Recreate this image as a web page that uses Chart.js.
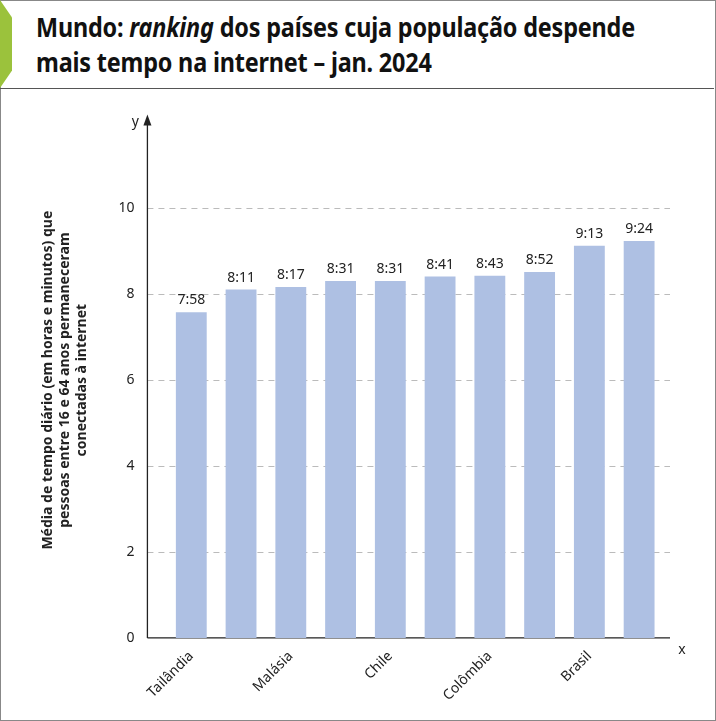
<!DOCTYPE html><html><head><meta charset="utf-8">
<script src="https://cdn.jsdelivr.net/npm/chart.js"></script>
<style>
body{margin:0;width:716px;height:721px;overflow:hidden;background:#fff;font-family:"Noto Sans",sans-serif}
#frame{position:absolute;left:0;top:0;width:714px;height:719px;border:1px solid #888}
#title{position:absolute;left:0;top:0;width:714px;height:88px;border-bottom:1px solid #555;}
#tab{position:absolute;left:0;top:0;width:12px;height:88px;background:#9bc23c;clip-path:polygon(0 0,100% 20%,100% 80%,0 100%)}
#title h1{margin:0;position:absolute;left:36px;top:10px;font-size:26px;line-height:35px;font-weight:bold;color:#111;white-space:nowrap;transform:scaleX(0.9);transform-origin:left top;letter-spacing:-0.2px}
#wrap{position:absolute;left:0;top:90px;width:716px;height:631px}
</style></head><body>
<div id="frame"></div>
<div id="title"><div id="tab"></div><h1>Mundo: <i>ranking</i> dos países cuja população despende<br>mais tempo na internet – jan. 2024</h1></div>
<div id="wrap"><canvas id="c"></canvas></div>
<script>
const categories=["Tailândia",["Emirados","Árabes Unidos"],"Malásia","Rússia","Chile","Argentina","Colômbia","Filipinas","Brasil","África do Sul"];
const values=[7.58,8.11,8.17,8.31,8.31,8.41,8.43,8.52,9.13,9.24];
const labels=["7:58","8:11","8:17","8:31","8:31","8:41","8:43","8:52","9:13","9:24"];
const yTicks=[0,2,4,6,8,10];
const axisPlugin={id:'ax',beforeDatasetsDraw(ch){const c=ch.ctx,a=ch.chartArea,y=ch.scales.y;const x0=a.left-19,x1=a.right+6;
c.save();c.strokeStyle='#bbb';c.setLineDash([6,5]);c.lineWidth=1;
yTicks.slice(1).forEach(v=>{const py=Math.round(y.getPixelForValue(v))+.5;c.beginPath();c.moveTo(x0,py);c.lineTo(x1,py);c.stroke();});
c.setLineDash([]);c.strokeStyle='#222';c.lineWidth=1.3;
const b=y.getPixelForValue(0);c.beginPath();c.moveTo(x0,b);c.lineTo(x1,b);c.moveTo(x0,b);c.lineTo(x0,a.top);c.stroke();
c.fillStyle='#222';c.beginPath();c.moveTo(x0,a.top-8);c.lineTo(x0-4,a.top+3);c.lineTo(x0+4,a.top+3);c.fill();
c.font='14px "Noto Sans"';c.textAlign='center';c.fillText('y',x0-12,a.top+4);c.fillText('x',x1+12,b+16);c.restore();},
afterDatasetsDraw(ch){const c=ch.ctx;c.save();c.font='14px "Noto Sans"';c.fillStyle='#222';c.textAlign='center';
ch.getDatasetMeta(0).data.forEach((e,i)=>c.fillText(labels[i],e.x,e.y-8));c.restore();}};
new Chart(document.getElementById('c'),{type:'bar',data:{labels:categories,datasets:[{data:values,backgroundColor:'#aec0e3',categoryPercentage:0.62,barPercentage:1}]},
options:{responsive:true,maintainAspectRatio:false,animation:false,layout:{padding:{top:10,right:52,left:36,bottom:15}},
plugins:{legend:{display:false},tooltip:{enabled:false}},
scales:{x:{grid:{display:false},border:{display:false},ticks:{color:'#222',font:{size:14,family:'Noto Sans'},maxRotation:45,minRotation:45,padding:2}},
y:{min:0,max:12,afterBuildTicks(s){s.ticks=yTicks.map(v=>({value:v}));},grid:{display:false},border:{display:false},
ticks:{color:'#222',font:{size:14,family:'Noto Sans'},padding:24},
title:{display:true,text:['Média de tempo diário (em horas e minutos) que','pessoas entre 16 e 64 anos permaneceram','conectadas à internet'],color:'#222',font:{size:14,weight:'bold',family:'Noto Sans'},padding:{bottom:4}}}}},
plugins:[axisPlugin]});
</script></body></html>
